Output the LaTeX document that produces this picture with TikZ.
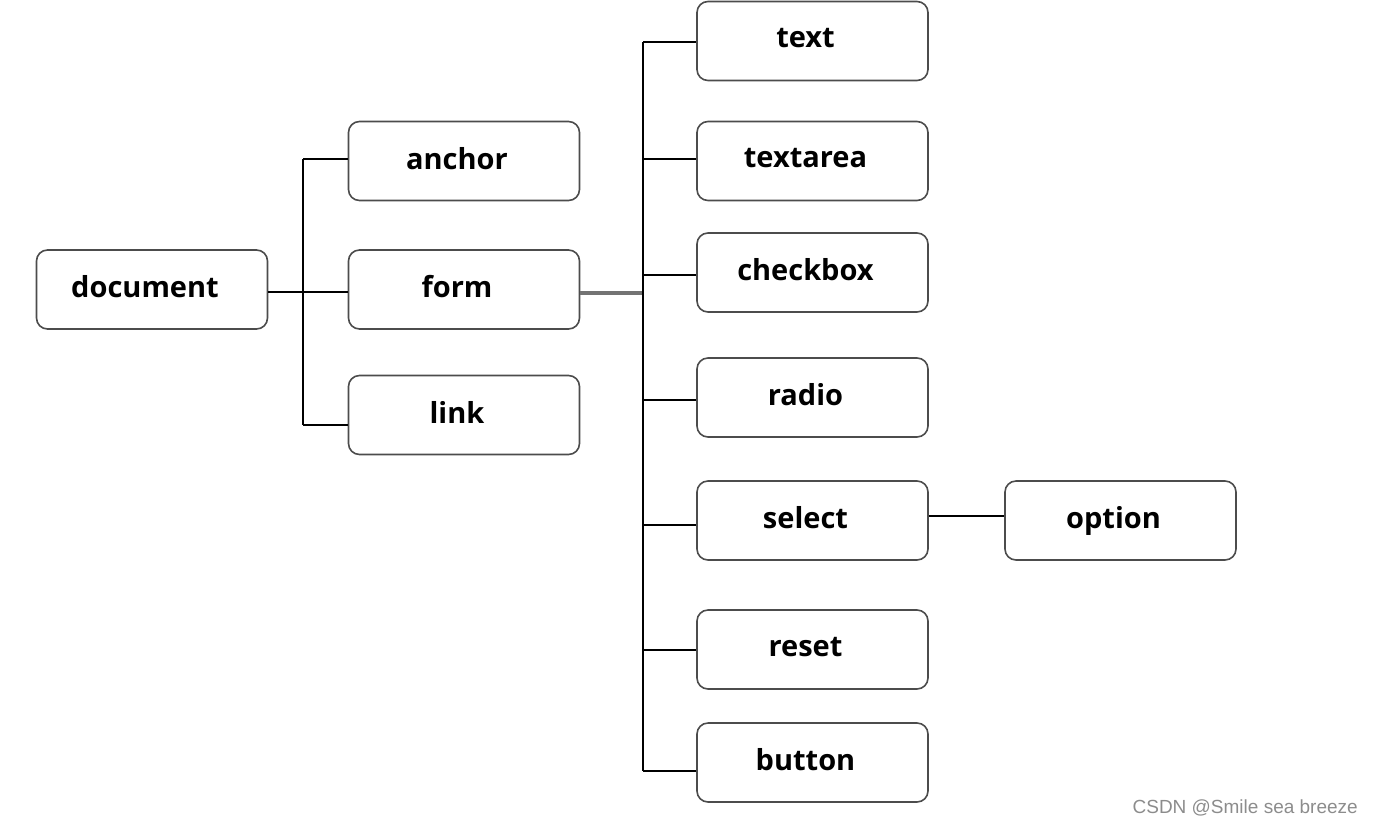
\documentclass[tikz,border=0pt]{standalone}
\usepackage{fontspec}
\setmainfont{Open Sans}
\newfontfamily\wmfont{Liberation Sans}
\tikzset{
  box/.style={draw=black!70, line width=1.6pt, rounded corners=11pt, fill=white,
    minimum width=231pt, minimum height=79pt, inner sep=0pt,
    font=\fontsize{29}{33}\selectfont\bfseries},
  conn/.style={draw=black, line width=1.3pt},
  formconn/.style={draw=black!55, line width=3.2pt}
}
\newcommand{\bx}[1]{\raisebox{6pt}{#1}\hspace*{14pt}}
\begin{document}
\begin{tikzpicture}[x=1pt,y=-1pt]
\useasboundingbox (0,0) rectangle (1373,823);
% nodes
\node[box] (document) at (152,289.5) {\bx{document}};
\node[box] (anchor) at (464,161) {\bx{anchor}};
\node[box] (form) at (464,289.5) {\bx{form}};
\node[box] (link) at (464,415) {\bx{link}};
\node[box] (text) at (812.5,41) {\bx{text}};
\node[box] (textarea) at (812.5,161) {\bx{textarea}};
\node[box] (checkbox) at (812.5,272.5) {\bx{checkbox}};
\node[box] (radio) at (812.5,397.5) {\bx{radio}};
\node[box] (select) at (812.5,520.5) {\bx{select}};
\node[box] (reset) at (812.5,649.5) {\bx{reset}};
\node[box] (button) at (812.5,762.5) {\bx{button}};
\node[box] (option) at (1120.5,520.5) {\bx{option}};
% junctions
\coordinate (ja) at (303,159);
\coordinate (jf) at (303,292);
\coordinate (jl) at (303,425);
\coordinate (t1) at (643,42);
\coordinate (t2) at (643,159);
\coordinate (t3) at (643,275);
\coordinate (tf) at (643,293);
\coordinate (t4) at (643,400);
\coordinate (t5) at (643,525);
\coordinate (t6) at (643,650);
\coordinate (t7) at (643,771);
% left tree
\draw[conn] (ja) -- (jl);
\draw[conn] (document.east |- jf) -- (jf);
\draw[conn] (ja) -- (anchor.west |- ja);
\draw[conn] (jf) -- (form.west |- jf);
\draw[conn] (jl) -- (link.west |- jl);
% right tree
\draw[formconn] (form.east |- tf) -- (tf);
\draw[conn] (t1) -- (t7);
\draw[conn] (t1) -- (text.west |- t1);
\draw[conn] (t2) -- (textarea.west |- t2);
\draw[conn] (t3) -- (checkbox.west |- t3);
\draw[conn] (t4) -- (radio.west |- t4);
\draw[conn] (t5) -- (select.west |- t5);
\draw[conn] (t6) -- (reset.west |- t6);
\draw[conn] (t7) -- (button.west |- t7);
\draw[conn] (select.east |- 0,516) -- (option.west |- 0,516);
% watermark
\node[anchor=base east, font=\wmfont\fontsize{19}{22}\selectfont, text=black!45, inner sep=0pt] (wm) at (1358,813) {CSDN @Smile sea breeze};
\end{tikzpicture}
\end{document}
